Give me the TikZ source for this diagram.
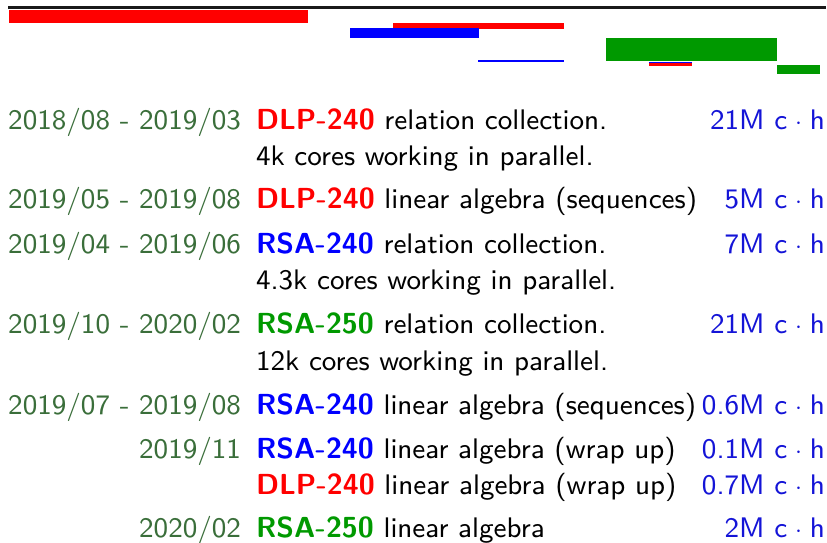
\documentclass[tikz,border=0pt]{standalone}
\usepackage{fontspec}
\setsansfont{lmsans9-regular.otf}[BoldFont=lmsans10-bold.otf,BoldFeatures={Scale=1.025}]
\definecolor{datecol}{RGB}{58,110,58}
\definecolor{valcol}{RGB}{20,20,215}
\definecolor{grn}{RGB}{0,153,0}
\definecolor{rd}{RGB}{255,0,0}
\definecolor{bl}{RGB}{0,0,255}
\begin{document}
\begin{tikzpicture}[x=1pt,y=-1pt,
  every node/.style={inner sep=0pt,outer sep=0pt,font=\sffamily\fontsize{28.3}{34}\selectfont},
  datenode/.style={anchor=base east,text=datecol},
  descnode/.style={anchor=base west,text=black},
  valnode/.style={anchor=base east,text=valcol},
  bar/.style={draw=none}]
\useasboundingbox (0,0) rectangle (827,543);
\newcommand{\dlp}{\textbf{\color{rd}DLP-240}}
\newcommand{\rsaf}{\textbf{\color{bl}RSA-240}}
\newcommand{\rsaff}{\textbf{\color{grn}RSA-250}}
\newcommand{\ch}{c\hspace{0.28em}$\cdot$\hspace{0.28em}h}
% timeline
\draw[line width=2.6pt,black!90] (8,7.3) -- (826,7.3);
\fill[rd] (9,10) rectangle (308,23);
\fill[rd] (393,23) rectangle (564,29);
\fill[bl] (350,28) rectangle (479,38);
\fill[bl] (478,60) rectangle (564,62);
\fill[grn] (606,38) rectangle (777,61);
\fill[bl] (649,62) rectangle (692,63.2);
\fill[rd] (649,63.2) rectangle (692,66);
\fill[grn] (777,65) rectangle (820,74);
% rows
\node[datenode] (d1) at (241,129) {2018/08 - 2019/03};
\node[descnode] (t1) at (256,129) {\dlp{} relation collection.};
\node[valnode] (v1) at (825,129) {21M \ch};
\node[descnode] (t1b) at (256,165) {4k cores working in parallel.};
\node[datenode] (d2) at (241,208) {2019/05 - 2019/08};
\node[descnode] (t2) at (256,208) {\dlp{} linear algebra (sequences)};
\node[valnode] (v2) at (825,208) {5M \ch};
\node[datenode] (d3) at (241,253) {2019/04 - 2019/06};
\node[descnode] (t3) at (256,253) {\rsaf{} relation collection.};
\node[valnode] (v3) at (825,253) {7M \ch};
\node[descnode] (t3b) at (256,289) {4.3k cores working in parallel.};
\node[datenode] (d4) at (241,333) {2019/10 - 2020/02};
\node[descnode] (t4) at (256,333) {\rsaff{} relation collection.};
\node[valnode] (v4) at (825,333) {21M \ch};
\node[descnode] (t4b) at (256,370) {12k cores working in parallel.};
\node[datenode] (d5) at (241,414) {2019/07 - 2019/08};
\node[descnode] (t5) at (256,414) {\rsaf{} linear algebra (sequences)};
\node[valnode] (v5) at (825,414) {0.6M \ch};
\node[datenode] (d6) at (241,458) {2019/11};
\node[descnode] (t6) at (256,458) {\rsaf{} linear algebra (wrap up)};
\node[valnode] (v6) at (825,458) {0.1M \ch};
\node[descnode] (t6b) at (256,494) {\dlp{} linear algebra (wrap up)};
\node[valnode] (v6b) at (825,494) {0.7M \ch};
\node[datenode] (d7) at (241,537) {2020/02};
\node[descnode] (t7) at (256,537) {\rsaff{} linear algebra};
\node[valnode] (v7) at (825,537) {2M \ch};
\end{tikzpicture}
\end{document}
